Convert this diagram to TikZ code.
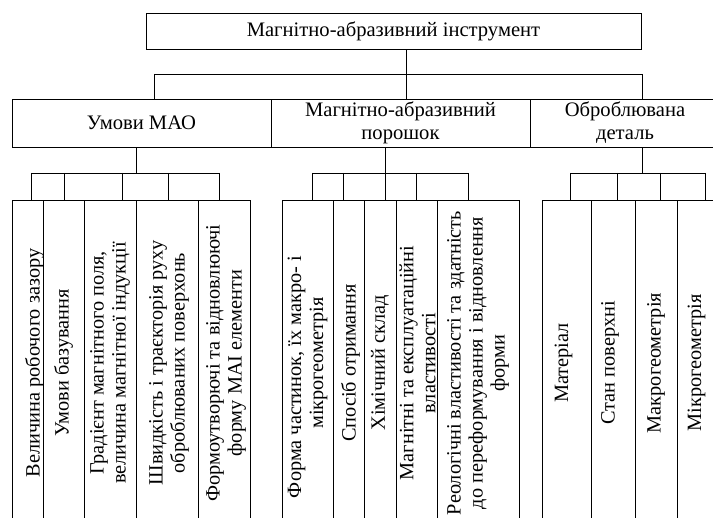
\documentclass[tikz,border=0pt]{standalone}
\usepackage{fontspec}
\setmainfont{Liberation Serif}
\usetikzlibrary{calc}
\begin{document}
\begin{tikzpicture}[x=1pt,y=-1pt,line width=0.8pt,
  box/.style={draw,rectangle,inner sep=0pt},
  txt/.style={font=\fontsize{20.6}{23}\selectfont,align=center,inner sep=0pt},
  vtxt/.style={txt,rotate=90,font=\fontsize{20.3}{22}\selectfont},
  vbox/.style={box,minimum height=326pt}]
\useasboundingbox (0,0) rectangle (713,518);
\clip (0,0) rectangle (713,518);
% level 1
\node[box,txt,minimum width=495pt,minimum height=36pt] (root) at (393.5,31) {Магнітно-абразивний інструмент};
% level 2
\node[box,txt,minimum width=259pt,minimum height=48pt] (umovy) at (141.5,123) {Умови МАО};
\node[box,txt,minimum width=259pt,minimum height=48pt] (por) at (400.5,123) {Магнітно-абразивний\\порошок};
\node[box,txt,minimum width=190pt,minimum height=48pt] (det) at (625,123) {Оброблювана\\деталь};
% level 1 -> 2
\coordinate (b1) at (154,74);
\coordinate (b2) at (406,74);
\coordinate (b3) at (642,74);
\draw (b1) -- (b3);
\draw (root.south -| b2) -- (b2 |- por.north);
\draw (b1) -- (b1 |- umovy.north);
\draw (b3) -- (b3 |- det.north);
% level 3 boxes, left group
\node[vbox,minimum width=31pt] (l1) at (27.5,363) {};
\node[vbox,minimum width=41pt] (l2) at (63.5,363) {};
\node[vbox,minimum width=52pt] (l3) at (110,363) {};
\node[vbox,minimum width=62pt] (l4) at (167,363) {};
\node[vbox,minimum width=52pt] (l5) at (224,363) {};
\node[vtxt] at ($(l1.center)+(7,0)$) {Величина робочого зазору};
\node[vtxt] at (l2.center) {Умови базування};
\node[vtxt] at (l3.center) {Градієнт магнітного поля,\\величина магнітної індукції};
\node[vtxt] at ($(l4.center)+(2,0)$) {Швидкість і траєкторія руху\\оброблюваних поверхонь};
\node[vtxt] at ($(l5.center)+(2,0)$) {Формоутворючі та відновлюючі\\форму МАІ елементи};
% mid group
\node[vbox,minimum width=51pt] (m1) at (307.5,363) {};
\node[vbox,minimum width=31pt] (m2) at (348.5,363) {};
\node[vbox,minimum width=32pt] (m3) at (380,363) {};
\node[vbox,minimum width=41pt] (m4) at (416.5,363) {};
\node[vbox,minimum width=82pt] (m5) at (478,363) {};
\node[vtxt] at (m1.center) {Форма частинок, їх макро- і\rule{28pt}{0pt}\\мікрогеометрія};
\node[vtxt] at ($(m2.center)+(2,0)$) {Спосіб отримання};
\node[vtxt] at (m3.center) {Хімічний склад};
\node[vtxt] at ($(m4.center)+(1,0)$) {Магнітні та експлуатаційні\\властивості};
\node[vtxt] at (m5.center) {Реологічні властивості та здатність\\до переформування і відновлення\\форми};
% right group
\node[vbox,minimum width=49pt] (r1) at (566.5,363) {};
\node[vbox,minimum width=44pt] (r2) at (613,363) {};
\node[vbox,minimum width=42pt] (r3) at (656,363) {};
\node[vbox,minimum width=43pt] (r4) at (698.5,363) {};
\node[vtxt] at ($(r1.center)+(-3,0)$) {Матеріал};
\node[vtxt] at ($(r2.center)+(-3,0)$) {Стан поверхні};
\node[vtxt] at (r3.center) {Макрогеометрія};
\node[vtxt] at ($(r4.center)+(-2,0)$) {Мікрогеометрія};
% level 2 -> 3, left
\coordinate (lu) at (136,173);
\coordinate (la) at (31,173);
\coordinate (lb) at (64,173);
\coordinate (lc) at (122,173);
\coordinate (ld) at (168,173);
\coordinate (le) at (219,173);
\draw (umovy.south -| lu) -- (lu);
\draw (la) -- (le);
\foreach \c/\n in {la/l1,lb/l2,lc/l3,ld/l4,le/l5} \draw (\c) -- (\c |- \n.north);
% mid
\coordinate (mu) at (385,173);
\coordinate (ma) at (312,173);
\coordinate (mb) at (343,173);
\coordinate (mc) at (385,173);
\coordinate (md) at (416,173);
\coordinate (me) at (468,173);
\draw (por.south -| mu) -- (mu);
\draw (ma) -- (me);
\foreach \c/\n in {ma/m1,mb/m2,mc/m3,md/m4,me/m5} \draw (\c) -- (\c |- \n.north);
% right
\coordinate (ru) at (642,173);
\coordinate (ra) at (570,173);
\coordinate (rb) at (617,173);
\coordinate (rc) at (660,173);
\coordinate (rd) at (705,173);
\draw (det.south -| ru) -- (ru);
\draw (ra) -- (rd);
\foreach \c/\n in {ra/r1,rb/r2,rc/r3,rd/r4} \draw (\c) -- (\c |- \n.north);
\end{tikzpicture}
\end{document}
